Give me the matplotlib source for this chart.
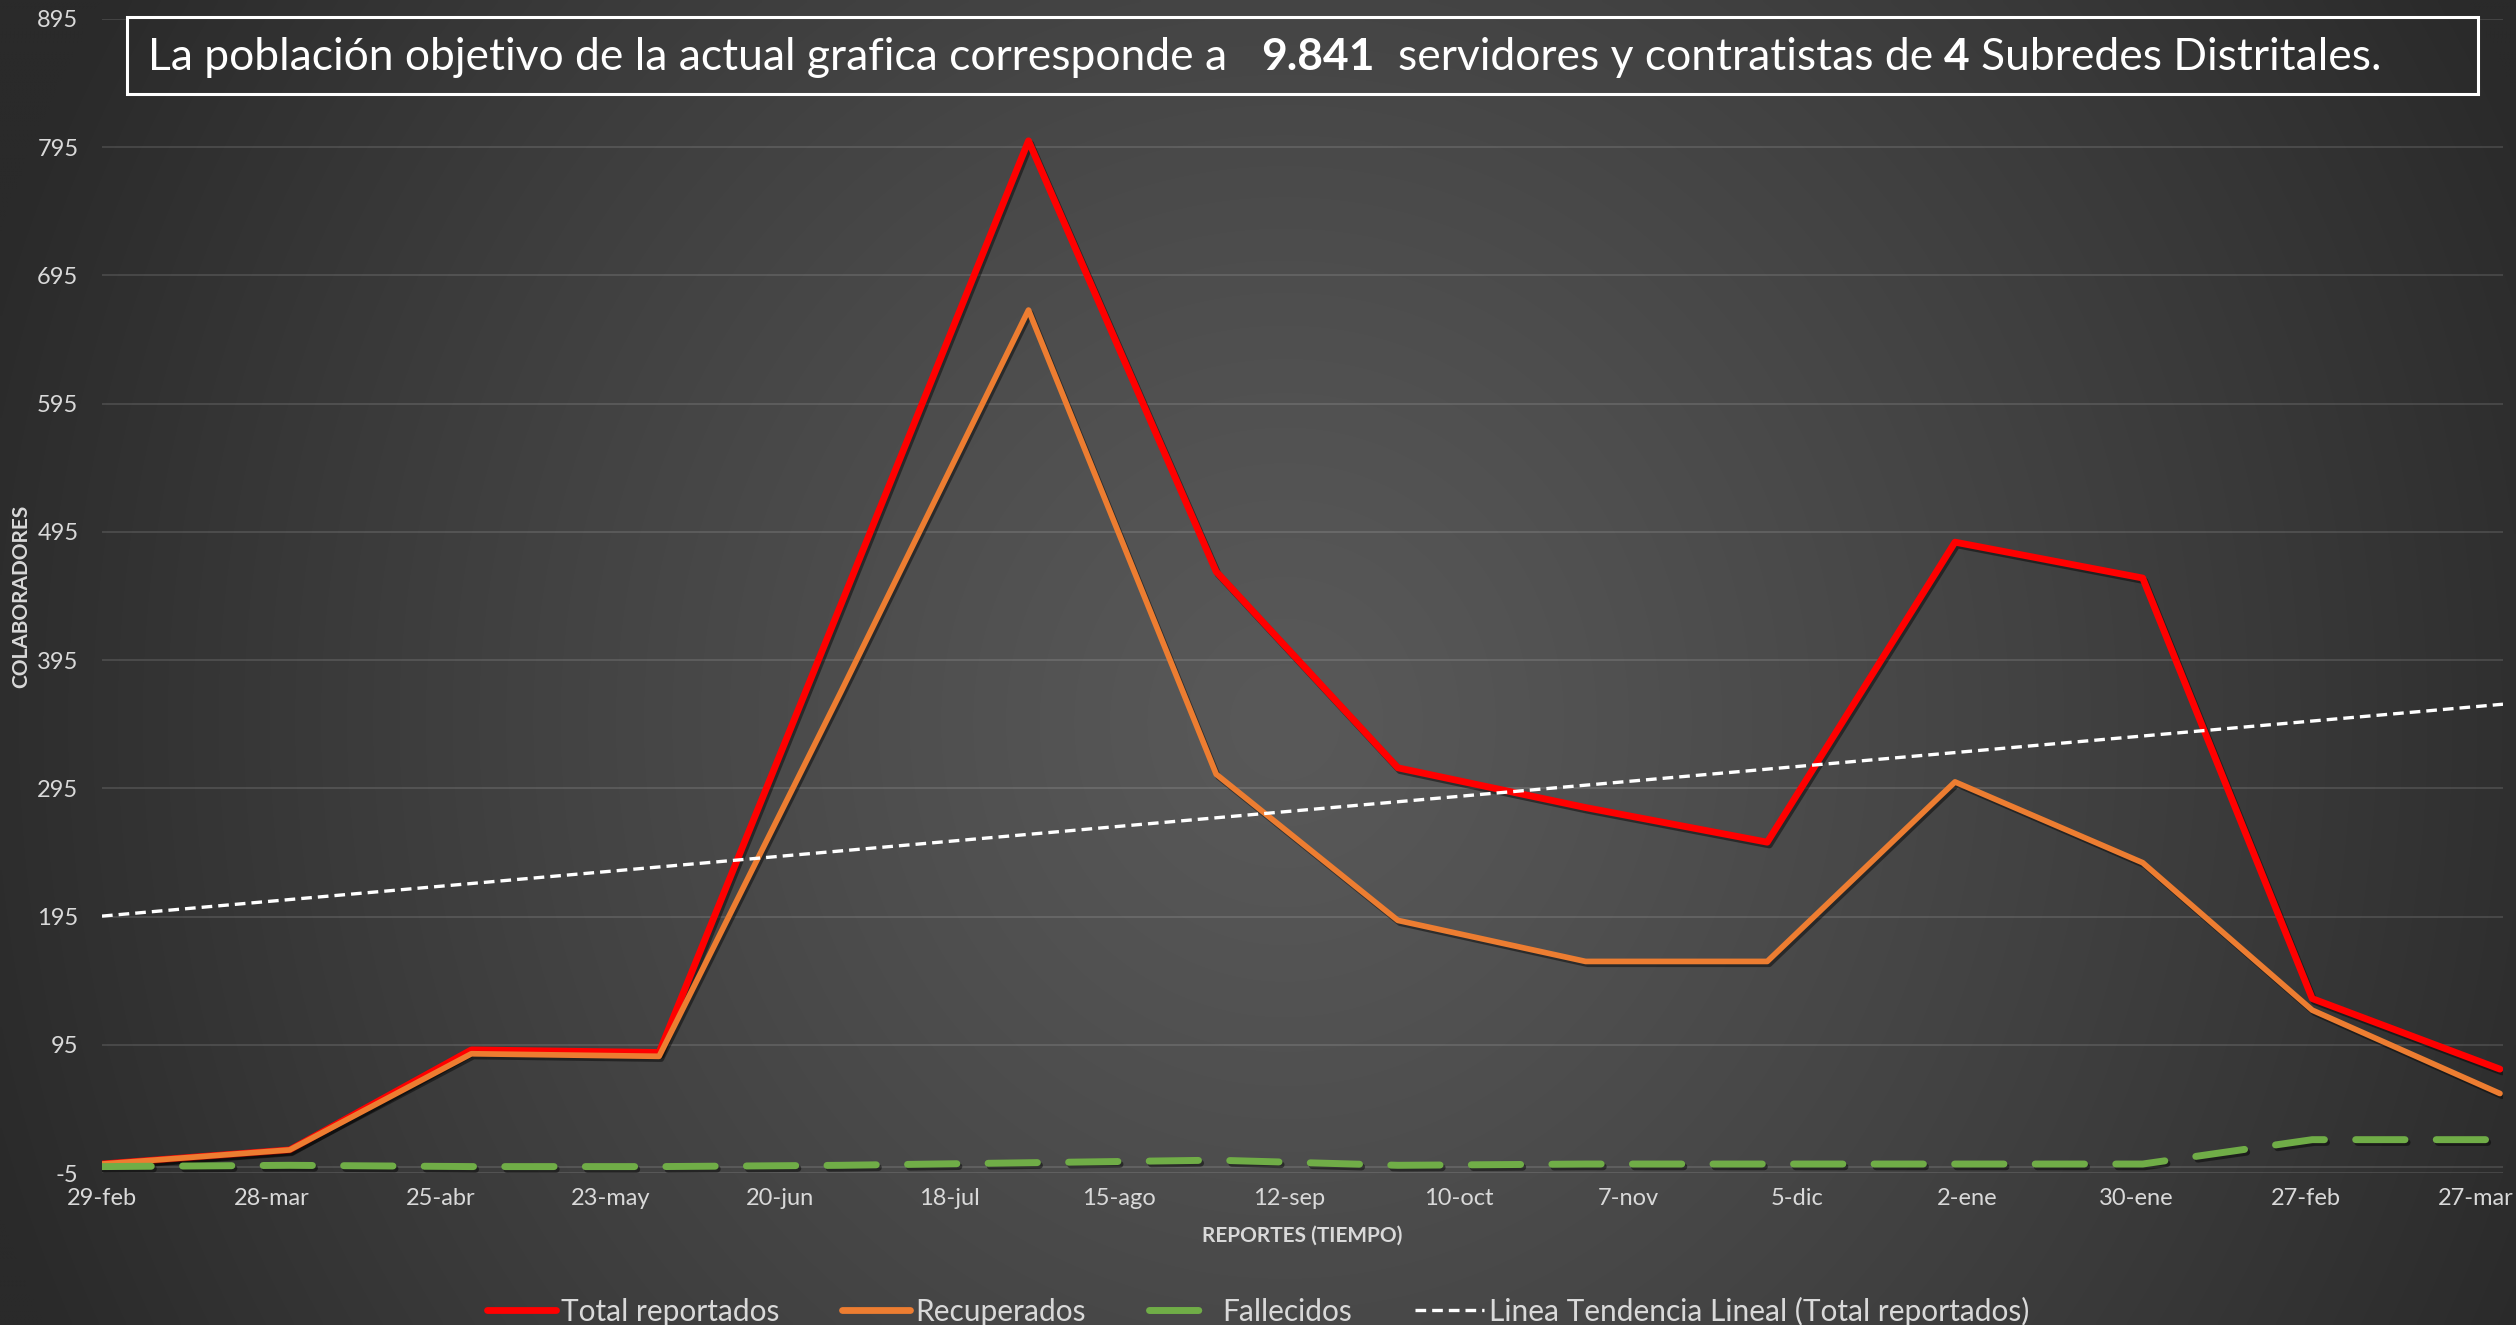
import numpy as np
import matplotlib
matplotlib.use('Agg')
import matplotlib.pyplot as plt
import matplotlib.dates as mdates
import matplotlib.patheffects as pe
from matplotlib.patches import Rectangle
from matplotlib.lines import Line2D

# ---------------- data ----------------
dates = ['2020-02-29', '2020-03-31', '2020-04-30', '2020-05-31', '2020-06-30',
         '2020-07-31', '2020-08-31', '2020-09-30', '2020-10-31', '2020-11-30',
         '2020-12-31', '2021-01-31', '2021-02-28', '2021-03-31']
total_reportados = [2, 13, 91, 89, 438, 800, 464, 311, 280, 253, 487, 459, 131, 76]
recuperados = [2, 13, 88, 86, 370, 668, 306, 192, 160, 160, 300, 237, 122, 57]
fallecidos = [0, 1, 0, 0, 1, 3, 5, 1, 2, 2, 2, 2, 21, 21]

tick_dates = ['2020-02-29', '2020-03-28', '2020-04-25', '2020-05-23', '2020-06-20',
              '2020-07-18', '2020-08-15', '2020-09-12', '2020-10-10', '2020-11-07',
              '2020-12-05', '2021-01-02', '2021-01-30', '2021-02-27', '2021-03-27']
tick_labels = ['29-feb', '28-mar', '25-abr', '23-may', '20-jun', '18-jul', '15-ago',
               '12-sep', '10-oct', '7-nov', '5-dic', '2-ene', '30-ene', '27-feb', '27-mar']
y_ticks = [-5, 95, 195, 295, 395, 495, 595, 695, 795, 895]
series_labels = ['Total reportados', 'Recuperados', 'Fallecidos',
                 'Linea Tendencia Lineal (Total reportados)']
title_pieces = [('La población objetivo de la actual grafica corresponde a', 'normal'),
                ('9.841', 'bold'),
                ('servidores y contratistas de', 'normal'),
                ('4', 'bold'),
                ('Subredes Distritales.', 'normal')]
title_gaps = [3, 2, 1, 1]   # spaces between pieces

# ---------------- style ----------------
plt.rcParams['font.family'] = ['Lato', 'DejaVu Sans']
TXT = '#d9d9d9'
RED = '#ff0000'
ORANGE = '#ed7d31'
GREEN = '#70ad47'

W, H = 2516, 1325
fig = plt.figure(figsize=(W / 100, H / 100), dpi=100)

# background radial gradient
gy, gx = np.mgrid[0:H:4, 0:W:4].astype(float)
cx, cy = 0.51 * W, 0.545 * H
rx, ry = 0.542 * W, 1.09 * H
d = np.clip(np.sqrt(((gx - cx) / rx) ** 2 + ((gy - cy) / ry) ** 2), 0, 1)
g = (89 - 47 * d ** 1.2) / 255.0
bg = np.dstack([g, g, g])

bg_ax = fig.add_axes([0, 0, 1, 1], zorder=-10)
bg_ax.imshow(bg, extent=[0, W, H, 0], aspect='auto', interpolation='bilinear')
bg_ax.set_xlim(0, W)
bg_ax.set_ylim(H, 0)
bg_ax.axis('off')

# ---------------- main axes ----------------
L, R, T, B = 102, 2503, 19, 1173
ax = fig.add_axes([L / W, 1 - B / H, (R - L) / W, (B - T) / H])
ax.set_facecolor('none')
for s in ax.spines.values():
    s.set_visible(False)

xn = mdates.date2num(np.array(dates, dtype='datetime64[D]'))
xt = mdates.date2num(np.array(tick_dates, dtype='datetime64[D]'))
x0, x1 = xn[0], xn[-1] + 0.5


def shadow():
    return [pe.SimpleLineShadow(offset=(1.5, -2.0), shadow_color='black', alpha=0.45),
            pe.Normal()]


ax.plot(xn, total_reportados, color=RED, lw=4.9, solid_joinstyle='round',
        solid_capstyle='round', zorder=3, path_effects=shadow())
ax.plot(xn, recuperados, color=ORANGE, lw=4.1, solid_joinstyle='round',
        solid_capstyle='round', zorder=4, path_effects=shadow())
ax.plot(xn, fallecidos, color=GREEN, lw=5, dashes=(7.1, 4.5), dash_capstyle='round',
        zorder=5, path_effects=shadow())

coef = np.polyfit(xn - xn[0], total_reportados, 1)
trend_x = np.array([x0, x1])
ax.plot(trend_x, np.polyval(coef, trend_x - xn[0]), color='white', lw=2.4,
        dashes=(3.2, 1.8), zorder=6)

ax.axhline(0, color='white', alpha=0.12, lw=1.4, zorder=1)
ax.set_xlim(x0, x1)
ax.set_ylim(-5, 895)
ax.set_yticks(y_ticks)
ax.set_yticklabels([str(v) for v in y_ticks])
ax.set_xticks(xt)
ax.set_xticklabels(tick_labels)
ax.grid(axis='y', color='white', alpha=0.12, lw=1.4)
ax.grid(axis='x', visible=False)
ax.set_axisbelow(True)
ax.tick_params(axis='both', length=0, colors=TXT, labelsize=17)
ax.tick_params(axis='y', pad=17)
ax.tick_params(axis='x', pad=11)

ax.set_xlabel('REPORTES (TIEMPO)', fontsize=15, fontweight='bold', color=TXT)
ax.xaxis.set_label_coords(0.5, -(1236 - B) / (B - T))
ax.xaxis.label.set_va('center')
ax.set_ylabel('COLABORADORES', fontsize=15, fontweight='bold', color=TXT)
ax.yaxis.set_label_coords(-(L - 21) / (R - L), 0.5)
ax.yaxis.label.set_va('center')

# ---------------- title box ----------------
top_ax = fig.add_axes([0, 0, 1, 1], zorder=5)
top_ax.set_xlim(0, W)
top_ax.set_ylim(H, 0)
top_ax.axis('off')
top_ax.patch.set_alpha(0)
bx0, by0, bx1, by1 = 127, 17, 2478, 94
clip = Rectangle((bx0, by0), bx1 - bx0, by1 - by0, transform=top_ax.transData)
im = top_ax.imshow(bg, extent=[0, W, H, 0], aspect='auto', interpolation='bilinear')
im.set_clip_path(clip)
top_ax.set_xlim(0, W)
top_ax.set_ylim(H, 0)
top_ax.add_patch(Rectangle((bx0, by0), bx1 - bx0, by1 - by0, fill=False,
                           ec='white', lw=2.2))

renderer = fig.canvas.get_renderer()


def text_width(s, size, weight):
    t = top_ax.text(0, 0, s, fontsize=size, fontweight=weight)
    w = t.get_window_extent(renderer).width
    t.remove()
    return w


def line_layout(size):
    space = text_width('a a', size, 'normal') - text_width('aa', size, 'normal')
    widths = [text_width(s, size, wgt) for s, wgt in title_pieces]
    starts = []
    xpos = 0.0
    for i, wd in enumerate(widths):
        starts.append(xpos)
        xpos += wd
        if i < len(title_gaps):
            xpos += title_gaps[i] * space
    return starts, xpos


base = 28.0
_, tot = line_layout(base)
tsize = base * (2380 - 148) / tot
starts, _ = line_layout(tsize)
for (s, wgt), xs in zip(title_pieces, starts):
    top_ax.text(148 + xs, 70, s, fontsize=tsize, fontweight=wgt, color='white',
                ha='left', va='baseline')

# ---------------- legend ----------------
handles = [
    Line2D([], [], color=RED, lw=4.9, solid_capstyle='round'),
    Line2D([], [], color=ORANGE, lw=4.9, solid_capstyle='round'),
    Line2D([], [], color=GREEN, lw=5, dashes=(7.1, 4.5), dash_capstyle='round'),
    Line2D([], [], color='white', lw=2.4, dashes=(3.2, 1.8)),
]
leg = fig.legend(handles, series_labels, loc='center', bbox_to_anchor=(0.5, 1 - 1311 / H),
                 ncol=4, frameon=False, fontsize=21.5, handlelength=2.3,
                 handletextpad=0.17, columnspacing=2.1, labelcolor=TXT)

fig.savefig('out.png', dpi=100)
